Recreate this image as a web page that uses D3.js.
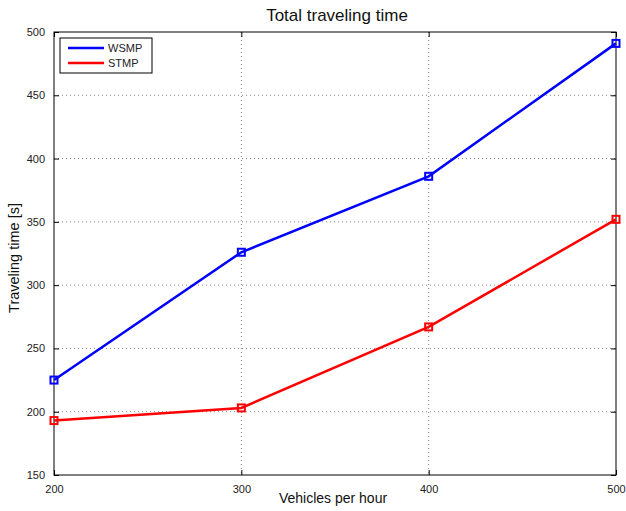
<!DOCTYPE html>
<html>
<head>
<meta charset="utf-8">
<script src="https://cdn.jsdelivr.net/npm/d3@7"></script>
<style>
body { margin: 0; background: #fff; }
text { font-family: "Liberation Sans", Arial, sans-serif; }
</style>
</head>
<body>
<script>
//chart data
var vehicles = [200, 300, 400, 500];
var wsmp = [225, 326, 386, 491];
var stmp = [193, 203, 267, 352];
var xTicks = [200, 300, 400, 500];
var yTicks = [150, 200, 250, 300, 350, 400, 450, 500];

var w = 626, h = 511;
//plot box edges (window.top is reserved, so prefixed names)
var pLeft = 54, pRight = 616, pTop = 32, pBottom = 475;

var svg = d3.select("body").append("svg")
    .attr("width", w)
    .attr("height", h);

var x = d3.scaleLinear().domain([200, 500]).range([pLeft, pRight]);
var y = d3.scaleLinear().domain([150, 500]).range([pBottom, pTop]);

//grid lines (dotted)
svg.selectAll(".vgrid")
    .data(xTicks.slice(1, -1))
    .enter().append("line")
    .attr("x1", function(d){ return x(d); })
    .attr("x2", function(d){ return x(d); })
    .attr("y1", pTop).attr("y2", pBottom)
    .style("stroke", "#666")
    .style("stroke-width", 0.8)
    .style("stroke-dasharray", "1,3");

svg.selectAll(".hgrid")
    .data(yTicks.slice(1, -1))
    .enter().append("line")
    .attr("y1", function(d){ return y(d); })
    .attr("y2", function(d){ return y(d); })
    .attr("x1", pLeft).attr("x2", pRight)
    .style("stroke", "#666")
    .style("stroke-width", 0.8)
    .style("stroke-dasharray", "1,3");

//axes with inward ticks
svg.append("g")
    .attr("transform", "translate(0," + pBottom + ")")
    .call(d3.axisBottom(x).tickValues(xTicks).tickSize(-5).tickPadding(10).tickFormat(d3.format("d")));
svg.append("g")
    .attr("transform", "translate(" + pLeft + ",0)")
    .call(d3.axisLeft(y).tickValues(yTicks).tickSize(-5).tickPadding(9).tickFormat(d3.format("d")));
//mirror ticks on top and right
svg.append("g")
    .attr("transform", "translate(0," + pTop + ")")
    .call(d3.axisTop(x).tickValues(xTicks).tickSize(-5).tickFormat(""));
svg.append("g")
    .attr("transform", "translate(" + pRight + ",0)")
    .call(d3.axisRight(y).tickValues(yTicks).tickSize(-5).tickFormat(""));

svg.selectAll(".domain").remove();
svg.selectAll(".tick line").style("stroke", "#000");
svg.selectAll(".tick text")
    .style("font-size", "11px")
    .style("fill", "#222");

//axes box
svg.append("rect")
    .attr("x", pLeft).attr("y", pTop)
    .attr("width", pRight - pLeft).attr("height", pBottom - pTop)
    .style("fill", "none")
    .style("stroke", "#000")
    .style("stroke-width", 1);

//series
var series = [
    { name: "WSMP", values: wsmp, color: "#0000ff" },
    { name: "STMP", values: stmp, color: "#ff0000" }
];

var line = d3.line()
    .x(function(d, i){ return x(vehicles[i]); })
    .y(function(d){ return y(d); });

series.forEach(function(s){
    svg.append("path")
        .datum(s.values)
        .attr("d", line)
        .style("fill", "none")
        .style("stroke", s.color)
        .style("stroke-width", 2.5);
    svg.selectAll(".m" + s.name)
        .data(s.values)
        .enter().append("rect")
        .attr("x", function(d, i){ return x(vehicles[i]) - 3.5; })
        .attr("y", function(d){ return y(d) - 3.5; })
        .attr("width", 7).attr("height", 7)
        .style("fill", "none")
        .style("stroke", s.color)
        .style("stroke-width", 2);
});

//legend
var legend = svg.append("g").attr("transform", "translate(60,38)");
legend.append("rect")
    .attr("width", 92).attr("height", 35)
    .style("fill", "#fff")
    .style("stroke", "#000")
    .style("stroke-width", 1);
series.forEach(function(s, i){
    legend.append("line")
        .attr("x1", 8).attr("x2", 44)
        .attr("y1", 10 + i * 15).attr("y2", 10 + i * 15)
        .style("stroke", s.color)
        .style("stroke-width", 2.5);
    legend.append("text")
        .attr("x", 48).attr("y", 14 + i * 15)
        .style("font-size", "11px")
        .style("fill", "#222")
        .text(s.name);
});

//titles
svg.append("text")
    .attr("x", 337).attr("y", 21)
    .attr("text-anchor", "middle")
    .style("font-size", "17px")
    .style("fill", "#111")
    .text("Total traveling time");

svg.append("text")
    .attr("x", 333).attr("y", 503)
    .attr("text-anchor", "middle")
    .style("font-size", "14px")
    .style("fill", "#111")
    .text("Vehicles per hour");

svg.append("text")
    .attr("transform", "translate(19,258) rotate(-90)")
    .attr("text-anchor", "middle")
    .style("font-size", "14.5px")
    .style("fill", "#111")
    .text("Traveling time [s]");
</script>
</body>
</html>
